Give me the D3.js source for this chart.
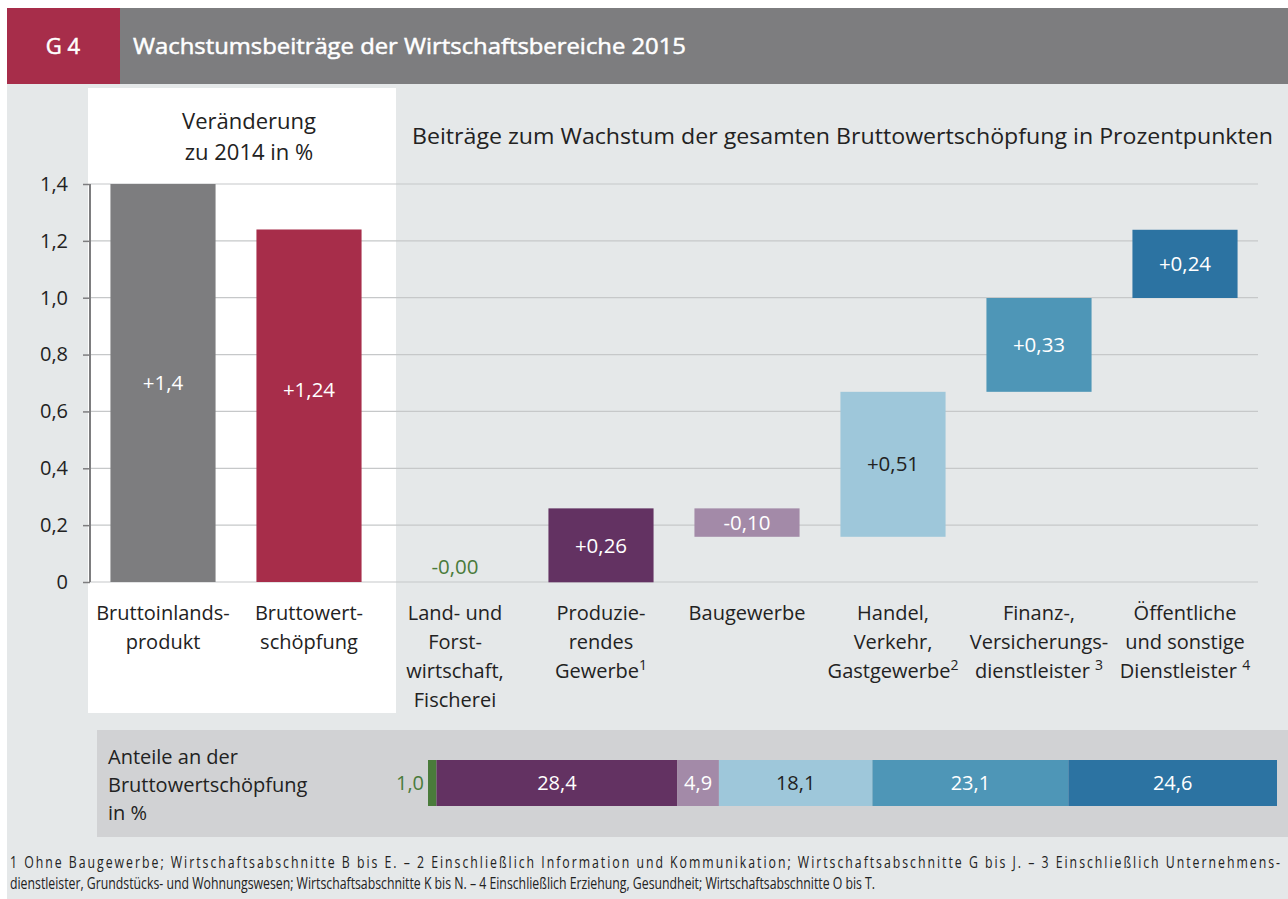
<!DOCTYPE html>
<html><head><meta charset="utf-8">
<script src="https://cdn.jsdelivr.net/npm/d3@7"></script>
<style>
html,body{margin:0;padding:0;background:#fff;}
svg{display:block;font-family:"Open Sans","Noto Sans",sans-serif;}
</style></head>
<body><svg id="c" width="1288" height="899"></svg>
<script>
// ---------- data ----------
const levelCats = ["Bruttoinlands-\nprodukt", "Bruttowert-\nschöpfung"];
const levelValues = [1.4, 1.24];
const levelLabels = ["+1,4", "+1,24"];
const levelLabelAt = [0.7, 0.675];

const contribCats = ["Land- und\nForst-\nwirtschaft,\nFischerei", "Produzie-\nrendes\nGewerbe|1", "Baugewerbe",
  "Handel,\nVerkehr,\nGastgewerbe|2", "Finanz-,\nVersicherungs-\ndienstleister |3", "Öffentliche\nund sonstige\nDienstleister |4"];
const contribValues = [-0.001, 0.26, -0.10, 0.51, 0.33, 0.24];
const contribLabels = ["-0,00", "+0,26", "-0,10", "+0,51", "+0,33", "+0,24"];

const shareValues = [1.0, 28.4, 4.9, 18.1, 23.1, 24.6];
const shareLabels = ["1,0", "28,4", "4,9", "18,1", "23,1", "24,6"];

const yTicks = [0, 0.2, 0.4, 0.6, 0.8, 1.0, 1.2, 1.4];
const yTickLabels = ["0", "0,2", "0,4", "0,6", "0,8", "1,0", "1,2", "1,4"];

const levelColors = ["#7d7d7f", "#a72d4a"];
const contribColors = ["#4a7b3b", "#633262", "#a38aa8", "#9ec7da", "#4e96b7", "#2c73a2"];
const labelColors = ["#4a7b3b", "#ffffff", "#ffffff", "#222222", "#ffffff", "#ffffff"];
const shareLabelColors = ["#4a7b3b", "#ffffff", "#ffffff", "#222222", "#ffffff", "#ffffff"];

const title = "Wachstumsbeiträge der Wirtschaftsbereiche 2015";
const titleTag = "G 4";
const leftHeader = ["Veränderung", "zu 2014 in %"];
const rightHeader = "Beiträge zum Wachstum der gesamten Bruttowertschöpfung in Prozentpunkten";
const shareTitle = ["Anteile an der", "Bruttowertschöpfung", "in %"];
const footnotes = [
  "1 Ohne Baugewerbe; Wirtschaftsabschnitte B bis E. – 2 Einschließlich Information und Kommunikation; Wirtschaftsabschnitte G bis J. – 3  Einschließlich Unternehmens-",
  "dienstleister, Grundstücks- und Wohnungswesen; Wirtschaftsabschnitte K bis N. –  4 Einschließlich Erziehung, Gesundheit; Wirtschaftsabschnitte O bis T."
];

// ---------- drawing ----------
const svg = d3.select("#c");
const txt = "#222222";

// backgrounds
svg.append("rect").attr("x", 7).attr("y", 84).attr("width", 1281).attr("height", 815).attr("fill", "#e5e8e9");
svg.append("rect").attr("x", 7).attr("y", 8).attr("width", 113).attr("height", 76).attr("fill", "#a72d4a");
svg.append("rect").attr("x", 120).attr("y", 8).attr("width", 1168).attr("height", 76).attr("fill", "#7d7d7f");
svg.append("text").attr("x", 63).attr("y", 54).attr("text-anchor", "middle").attr("fill", "#fff")
  .attr("stroke", "#fff").attr("stroke-width", 0.5)
  .attr("font-size", 22).text(titleTag);
svg.append("text").attr("x", 133).attr("y", 54).attr("fill", "#fff")
  .attr("stroke", "#fff").attr("stroke-width", 0.5)
  .attr("font-size", 22).attr("textLength", 553).attr("lengthAdjust", "spacingAndGlyphs").text(title);

// white panel
svg.append("rect").attr("x", 88).attr("y", 88).attr("width", 308).attr("height", 625).attr("fill", "#ffffff");

// headers
leftHeader.forEach((t, i) => svg.append("text").attr("x", 249).attr("y", 129 + i * 31).attr("text-anchor", "middle")
  .attr("fill", txt).attr("font-size", 22).text(t));
svg.append("text").attr("x", 412).attr("y", 144).attr("fill", txt).attr("font-size", 21)
  .attr("textLength", 861).attr("lengthAdjust", "spacingAndGlyphs").text(rightHeader);

// scales
const allCats = levelCats.concat(contribCats);
const x = d3.scaleBand().domain(allCats).range([90, 1258]).paddingInner(0.28).paddingOuter(0.14);
const y = d3.scaleLinear().domain([0, 1.4]).range([582, 184]);

// gridlines
const g = svg.append("g");
g.selectAll("line.grid").data(yTicks).join("line")
  .attr("x1", 90).attr("x2", 1258).attr("y1", d => y(d)).attr("y2", d => y(d))
  .attr("stroke", "#c6c8c9").attr("stroke-width", 1.2);

// y axis
const yAxis = d3.axisLeft(y).tickValues(yTicks).tickFormat((d, i) => yTickLabels[i]).tickSize(7).tickPadding(15);
const ya = svg.append("g").attr("transform", "translate(90,0)").call(yAxis);
ya.select(".domain").attr("stroke", "#7d7d7f").attr("stroke-width", 2).attr("d", `M0,${y(0)}V${y(1.4)}`);
ya.selectAll(".tick line").attr("stroke", "#7d7d7f").attr("stroke-width", 1.5);
ya.selectAll(".tick text").attr("fill", txt).attr("font-size", 20).attr("font-family", '"Open Sans","Noto Sans",sans-serif');

// level bars
levelCats.forEach((c, i) => {
  svg.append("rect").attr("x", x(c)).attr("width", x.bandwidth())
    .attr("y", y(levelValues[i])).attr("height", y(0) - y(levelValues[i])).attr("fill", levelColors[i]);
  svg.append("text").attr("x", x(c) + x.bandwidth() / 2).attr("y", y(levelLabelAt[i]))
    .attr("dy", "0.35em").attr("text-anchor", "middle").attr("fill", "#fff").attr("font-size", 20.5).text(levelLabels[i]);
});

// waterfall bars
let cum = 0;
contribCats.forEach((c, i) => {
  const v = contribValues[i];
  const start = cum, end = cum + v;
  cum = end;
  const top = y(Math.max(start, end)), bot = y(Math.min(start, end));
  if (bot - top >= 1) {
    svg.append("rect").attr("x", x(c)).attr("width", x.bandwidth())
      .attr("y", top).attr("height", bot - top).attr("fill", contribColors[i]);
  }
  const tooSmall = (bot - top) < 20;
  const ly = (tooSmall && i !== 2) ? top - 15 : (top + bot) / 2;
  svg.append("text").attr("x", x(c) + x.bandwidth() / 2).attr("y", ly)
    .attr("dy", "0.35em").attr("text-anchor", "middle").attr("fill", labelColors[i]).attr("font-size", 20.5)
    .text(contribLabels[i]);
});

// category labels
function catLabel(c) {
  const lines = c.split("\n");
  const t = svg.append("text").attr("text-anchor", "middle").attr("fill", txt).attr("font-size", 20);
  lines.forEach((ln, j) => {
    const parts = ln.split("|");
    t.append("tspan").attr("x", x(c) + x.bandwidth() / 2).attr("y", 620 + j * 29).text(parts[0]);
    if (parts[1]) {
      t.append("tspan").attr("dy", -8).attr("font-size", 14).text(parts[1]);
    }
  });
}
allCats.forEach(catLabel);

// shares panel
svg.append("rect").attr("x", 97).attr("y", 730).attr("width", 1191).attr("height", 107).attr("fill", "#d1d2d4");
shareTitle.forEach((t, i) => svg.append("text").attr("x", 108).attr("y", 764 + i * 28)
  .attr("fill", txt).attr("font-size", 20).text(t));

const total = d3.sum(shareValues);
const xs = d3.scaleLinear().domain([0, total]).range([428, 1277]);
let acc = 0;
shareValues.forEach((v, i) => {
  const x0 = xs(acc), x1 = xs(acc + v);
  acc += v;
  svg.append("rect").attr("x", x0).attr("y", 760).attr("width", x1 - x0).attr("height", 46).attr("fill", contribColors[i]);
  if (i === 0) {
    svg.append("text").attr("x", x0 - 4).attr("y", 783).attr("dy", "0.35em").attr("text-anchor", "end")
      .attr("fill", shareLabelColors[i]).attr("font-size", 20).text(shareLabels[i]);
  } else {
    svg.append("text").attr("x", (x0 + x1) / 2).attr("y", 783).attr("dy", "0.35em").attr("text-anchor", "middle")
      .attr("fill", shareLabelColors[i]).attr("font-size", 20).text(shareLabels[i]);
  }
});

// footnotes: condensed, first line justified
const fg = svg.append("g");
const fnodes = footnotes.map((t, i) => fg.append("text").attr("x", 0).attr("y", 868 + i * 21)
  .attr("fill", txt).attr("font-size", 16).attr("font-family", '"Open Sans",sans-serif').text(t));
const w1 = fnodes[1].node().getComputedTextLength();
const sx = 866 / w1;
fnodes[0].attr("textLength", 1270 / sx).attr("lengthAdjust", "spacing");
fg.attr("transform", `translate(10,0) scale(${sx},1)`);
</script></body></html>
